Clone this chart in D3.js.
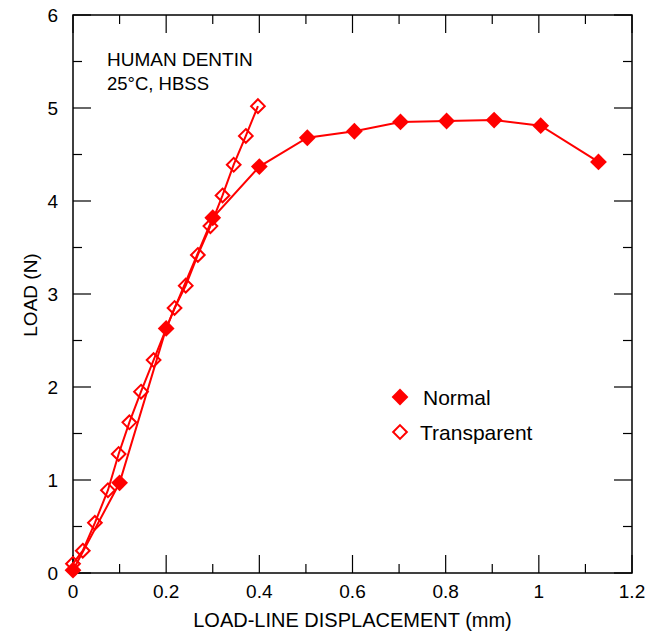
<!DOCTYPE html>
<html>
<head>
<meta charset="utf-8">
<script src="https://cdn.jsdelivr.net/npm/d3@7"></script>
<style>
  body { margin: 0; background: #fff; }
  text { font-family: "Liberation Sans", Arial, sans-serif; fill: #000; }
</style>
</head>
<body>
<div id="chart"></div>
<script>
var svgWidth = 656;
var svgHeight = 632;

var margin = { top: 15, right: 24, bottom: 59, left: 73 };

var chartWidth = svgWidth - margin.left - margin.right;
var chartHeight = svgHeight - margin.top - margin.bottom;

// data
var normalX = [0, 0.1, 0.2, 0.3, 0.4, 0.503, 0.604, 0.703, 0.802, 0.904, 1.004, 1.128];
var normalY = [0.03, 0.97, 2.63, 3.82, 4.37, 4.68, 4.75, 4.85, 4.86, 4.87, 4.81, 4.42];

var transX = [0, 0.021, 0.047, 0.075, 0.098, 0.121, 0.146, 0.173, 0.218, 0.242, 0.268, 0.295, 0.321, 0.345, 0.371, 0.397];
var transY = [0.1, 0.24, 0.54, 0.89, 1.28, 1.62, 1.95, 2.29, 2.85, 3.09, 3.42, 3.73, 4.06, 4.39, 4.70, 5.02];

var xTicks = [0, 0.2, 0.4, 0.6, 0.8, 1, 1.2];
var yTicks = [0, 1, 2, 3, 4, 5, 6];

var svg = d3.select("#chart").append("svg")
  .attr("width", svgWidth)
  .attr("height", svgHeight);

var chartGroup = svg.append("g")
  .attr("transform", `translate(${margin.left}, ${margin.top})`);

var xScale = d3.scaleLinear().domain([0, 1.2]).range([0, chartWidth]);
var yScale = d3.scaleLinear().domain([0, 6]).range([chartHeight, 0]);

var minorX = d3.range(0, 1.21, 0.1);
var minorY = d3.range(0, 6.01, 0.5);

function isMajor(v, step) {
  return Math.abs(v / step - Math.round(v / step)) < 1e-6;
}

// ticks on all four sides, pointing inward
function tickLen(v, step) { return isMajor(v, step) ? 18 : 9; }

var tickG = chartGroup.append("g").attr("stroke", "#000").attr("stroke-width", 1.2);

minorX.forEach(function(v) {
  var x = xScale(v), len = tickLen(v, 0.2);
  tickG.append("line").attr("x1", x).attr("x2", x).attr("y1", chartHeight).attr("y2", chartHeight - len);
  tickG.append("line").attr("x1", x).attr("x2", x).attr("y1", 0).attr("y2", len);
});
minorY.forEach(function(v) {
  var y = yScale(v), len = tickLen(v, 1);
  tickG.append("line").attr("x1", 0).attr("x2", len).attr("y1", y).attr("y2", y);
  tickG.append("line").attr("x1", chartWidth).attr("x2", chartWidth - len).attr("y1", y).attr("y2", y);
});

// frame
chartGroup.append("rect")
  .attr("width", chartWidth)
  .attr("height", chartHeight)
  .attr("fill", "none")
  .attr("stroke", "#000")
  .attr("stroke-width", 1.5);

// tick labels
chartGroup.selectAll(".xlab")
  .data(xTicks)
  .enter()
  .append("text")
  .attr("x", function(d) { return xScale(d); })
  .attr("y", chartHeight + 25)
  .attr("text-anchor", "middle")
  .style("font-size", "19px")
  .text(function(d) { return d; });

chartGroup.selectAll(".ylab")
  .data(yTicks)
  .enter()
  .append("text")
  .attr("x", -15)
  .attr("y", function(d) { return yScale(d) + 7; })
  .attr("text-anchor", "end")
  .style("font-size", "19px")
  .text(function(d) { return d; });

// axis titles
svg.append("text")
  .attr("x", margin.left + chartWidth / 2)
  .attr("y", 627)
  .attr("text-anchor", "middle")
  .style("font-size", "20px")
  .text("LOAD-LINE DISPLACEMENT (mm)");

svg.append("text")
  .attr("transform", "translate(37, 295) rotate(-90)")
  .attr("text-anchor", "middle")
  .style("font-size", "19px")
  .text("LOAD (N)");

// annotation
chartGroup.append("text")
  .attr("x", 34).attr("y", 51)
  .style("font-size", "19px")
  .text("HUMAN DENTIN");
chartGroup.append("text")
  .attr("x", 34).attr("y", 75)
  .style("font-size", "18.5px")
  .text("25\u00B0C, HBSS");

var line = d3.line()
  .x(function(d) { return xScale(d[0]); })
  .y(function(d) { return yScale(d[1]); });

var normalData = normalX.map(function(x, i) { return [x, normalY[i]]; });
var transData = transX.map(function(x, i) { return [x, transY[i]]; });

var red = "#ff0000";
var diamond = d3.symbol().type(d3.symbolDiamond2);

chartGroup.append("path")
  .datum(transData)
  .attr("d", line)
  .attr("fill", "none")
  .attr("stroke", red)
  .attr("stroke-width", 2);

chartGroup.append("path")
  .datum(normalData)
  .attr("d", line)
  .attr("fill", "none")
  .attr("stroke", red)
  .attr("stroke-width", 2);

chartGroup.selectAll(".open")
  .data(transData)
  .enter()
  .append("path")
  .attr("d", diamond.size(120)())
  .attr("transform", function(d) { return `translate(${xScale(d[0])}, ${yScale(d[1])})`; })
  .attr("fill", "none")
  .attr("stroke", red)
  .attr("stroke-width", 2);

chartGroup.selectAll(".filled")
  .data(normalData)
  .enter()
  .append("path")
  .attr("d", diamond.size(180)())
  .attr("transform", function(d) { return `translate(${xScale(d[0])}, ${yScale(d[1])})`; })
  .attr("fill", red);

// legend
var legend = svg.append("g");
legend.append("path")
  .attr("d", diamond.size(180)())
  .attr("transform", "translate(400, 397)")
  .attr("fill", red);
legend.append("text")
  .attr("x", 423).attr("y", 405)
  .style("font-size", "21px")
  .text("Normal");
legend.append("path")
  .attr("d", diamond.size(120)())
  .attr("transform", "translate(400, 432)")
  .attr("fill", "none")
  .attr("stroke", red)
  .attr("stroke-width", 2);
legend.append("text")
  .attr("x", 420).attr("y", 440)
  .style("font-size", "21px")
  .text("Transparent");
</script>
</body>
</html>
